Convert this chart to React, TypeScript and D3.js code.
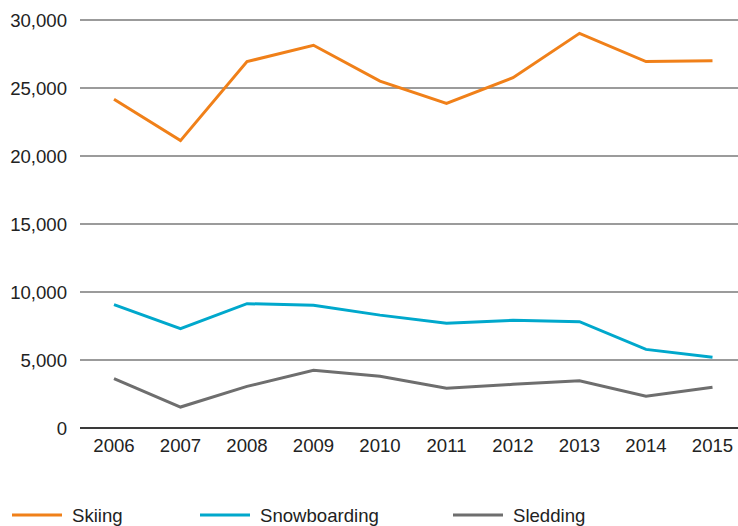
import React from "react";
import * as d3 from "d3";

// Annual injury counts by winter activity
const years = ["2006", "2007", "2008", "2009", "2010", "2011", "2012", "2013", "2014", "2015"];
const skiing = [24170, 21130, 26940, 28140, 25510, 23870, 25760, 29020, 26940, 27010];
const snowboarding = [9070, 7300, 9140, 9020, 8300, 7700, 7920, 7820, 5780, 5200];
const sledding = [3630, 1540, 3060, 4240, 3800, 2920, 3210, 3480, 2330, 3000];
const yTicks = [0, 5000, 10000, 15000, 20000, 25000, 30000];

const seriesNames = ["Skiing", "Snowboarding", "Sledding"];
const seriesColors = ["#F08019", "#00A8CC", "#6E6E6E"];

const W = 738;
const H = 526;
const FONT = "'Liberation Sans', Arial, Helvetica, sans-serif";
const FS = 18.6;

export default function App() {
  const x = d3.scalePoint<string>().domain(years).range([114, 712.5]);
  const y = d3.scaleLinear().domain([0, 30000]).range([428, 20]);
  const fmt = d3.format(",");

  const line = d3
    .line<number>()
    .x((_, i) => x(years[i]) as number)
    .y((d) => y(d));

  const series = [skiing, snowboarding, sledding];
  const legendX = [12, 200, 453];

  return (
    <svg
      width={W}
      height={H}
      style={{ position: "absolute", left: 0, top: 0, background: "#fff" }}
      fontFamily={FONT}
    >
      {/* horizontal gridlines and y labels */}
      {yTicks.map((t) => (
        <g key={t}>
          <line
            x1={80}
            x2={W}
            y1={y(t)}
            y2={y(t)}
            stroke={t === 0 ? "#3a3a3a" : "#7a7a7a"}
            strokeWidth={t === 0 ? 2 : 1.3}
          />
          <text x={67} y={y(t) + 6.7} textAnchor="end" fontSize={FS} fill="#222">
            {fmt(t)}
          </text>
        </g>
      ))}

      {/* x labels */}
      {years.map((yr) => (
        <text key={yr} x={x(yr)} y={452} textAnchor="middle" fontSize={FS} fill="#222">
          {yr}
        </text>
      ))}

      {/* series lines */}
      {series.map((s, i) => (
        <path
          key={seriesNames[i]}
          d={line(s) ?? ""}
          fill="none"
          stroke={seriesColors[i]}
          strokeWidth={3}
          strokeLinejoin="miter"
        />
      ))}

      {/* legend */}
      {seriesNames.map((name, i) => (
        <g key={name}>
          <line
            x1={legendX[i]}
            x2={legendX[i] + 50}
            y1={515}
            y2={515}
            stroke={seriesColors[i]}
            strokeWidth={3}
          />
          <text x={legendX[i] + 60} y={522} fontSize={FS} fill="#222">
            {name}
          </text>
        </g>
      ))}
    </svg>
  );
}
